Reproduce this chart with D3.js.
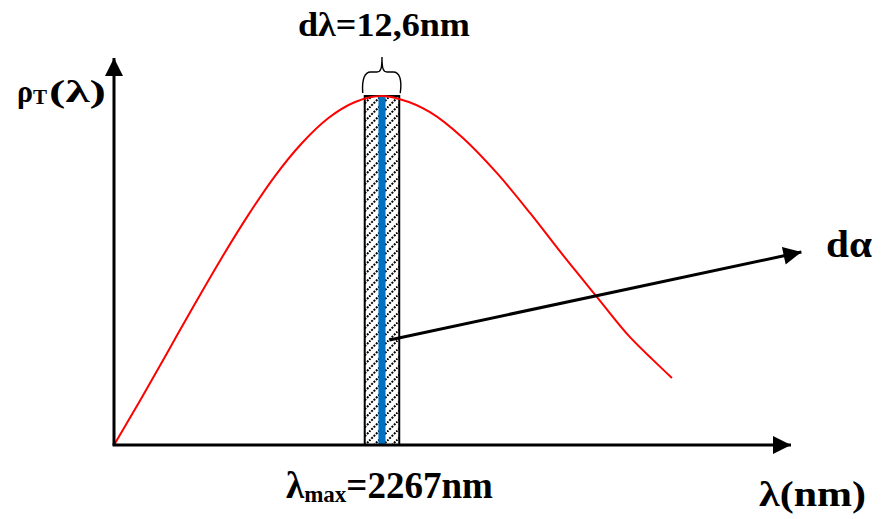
<!DOCTYPE html>
<html>
<head>
<meta charset="utf-8">
<script src="https://cdn.jsdelivr.net/npm/d3@7"></script>
<style>
  html, body { margin: 0; padding: 0; background: #fff; }
  svg { display: block; }
  text { font-family: "Liberation Serif", "Times New Roman", serif; font-weight: bold; fill: #000; }
</style>
</head>
<body>
<svg id="chart" width="882" height="519"></svg>
<script>
// Spectral density curve ρT(λ), normalised to its maximum (wavelength in nm)
const wavelengths = [0, 227, 453, 680, 907, 1134, 1360, 1587, 1814, 2040, 2267,
                     2419, 2673, 2952, 3240, 3519, 3798, 4086, 4365, 4559, 4720];
const density     = [0, 0.131, 0.266, 0.402, 0.534, 0.658, 0.770, 0.864, 0.937, 0.983, 1.000,
                     0.991, 0.954, 0.880, 0.779, 0.665, 0.544, 0.424, 0.309, 0.244, 0.192];

// Peak wavelength and the narrow slice dλ around it
const lambdaMax = 2267;
const dLambda = 12.6;
// Drawn (schematic) half-widths of the hatched slice and its core, in nm
const sliceHalf = [146, 30];

// Arrow from the slice to the dα label, in (nm, density) coordinates
const arrowFrom = [2330, 0.301];
const arrowTo   = [5815, 0.553];

// Text labels
const yLabel = ["ρ", "T", "(λ)"];
const xLabel = "λ(nm)";
const sliceLabel = "dλ=" + String(dLambda).replace(".", ",") + "nm";
const peakLabel = ["λ", "max", "=" + lambdaMax + "nm"];
const areaLabel = "dα";

const svg = d3.select("#chart");

const x = d3.scaleLinear().domain([0, 5727]).range([114, 791]);
const y = d3.scaleLinear().domain([0, 1.109]).range([445, 58]);

const defs = svg.append("defs");

// Diagonal dotted hatching for the slice
const pat = defs.append("pattern")
  .attr("id", "hatch")
  .attr("patternUnits", "userSpaceOnUse")
  .attr("width", 9).attr("height", 9);
pat.append("rect").attr("width", 9).attr("height", 9).attr("fill", "#fff");
pat.append("path")
  .attr("d", "M-2,2 L2,-2 M0,9 L9,0 M7,11 L11,7")
  .attr("stroke", "#000")
  .attr("stroke-width", 2)
  .attr("stroke-dasharray", "2,1.3");

// Arrow head
defs.append("marker")
  .attr("id", "head")
  .attr("viewBox", "0 0 10 10")
  .attr("refX", 10).attr("refY", 5)
  .attr("markerUnits", "userSpaceOnUse")
  .attr("markerWidth", 19).attr("markerHeight", 18)
  .attr("orient", "auto")
  .append("path")
  .attr("d", "M0,0 L10,5 L0,10 Z")
  .attr("fill", "#000");

// Slice band [λmax - half, λmax + half] up to the curve peak
const bx0 = x(lambdaMax - sliceHalf[0]);
const bx1 = x(lambdaMax + sliceHalf[0]);
const peakVal = d3.max(density);
svg.append("rect")
  .attr("x", bx0).attr("y", y(peakVal))
  .attr("width", bx1 - bx0).attr("height", y(0) - y(peakVal))
  .attr("fill", "url(#hatch)")
  .attr("stroke", "#000").attr("stroke-width", 2);

svg.append("rect")
  .attr("x", x(lambdaMax - sliceHalf[1])).attr("y", y(peakVal) + 1)
  .attr("width", x(lambdaMax + sliceHalf[1]) - x(lambdaMax - sliceHalf[1]))
  .attr("height", y(0) - y(peakVal) - 1)
  .attr("fill", "#0070c0");

// Spectral curve
const pts = wavelengths.map((w, i) => [w, density[i]]);
svg.append("path")
  .datum(pts)
  .attr("fill", "none")
  .attr("stroke", "#ff0000")
  .attr("stroke-width", 2)
  .attr("d", d3.line().x(d => x(d[0])).y(d => y(d[1])).curve(d3.curveMonotoneX));

// Axes
svg.append("line")
  .attr("x1", x(0)).attr("y1", y(0))
  .attr("x2", x(0)).attr("y2", y.range()[1])
  .attr("stroke", "#000").attr("stroke-width", 3)
  .attr("marker-end", "url(#head)");
svg.append("line")
  .attr("x1", x(0) - 1.5).attr("y1", y(0))
  .attr("x2", x.range()[1]).attr("y2", y(0))
  .attr("stroke", "#000").attr("stroke-width", 3)
  .attr("marker-end", "url(#head)");

// Brace over the slice
const by = y(peakVal) - 3;
const cx = (bx0 + bx1) / 2;
svg.append("path")
  .attr("d", `M${bx0 - 2},${by} C${bx0 - 3},${by - 14} ${bx0},${by - 21} ${bx0 + 6},${by - 21}
              L${cx - 5},${by - 21} C${cx - 1},${by - 21} ${cx},${by - 25} ${cx},${by - 36}
              C${cx},${by - 25} ${cx + 1},${by - 21} ${cx + 5},${by - 21}
              L${bx1 - 6},${by - 21} C${bx1},${by - 21} ${bx1 + 3},${by - 14} ${bx1 + 1},${by}`)
  .attr("fill", "none").attr("stroke", "#000").attr("stroke-width", 1.4);

// Arrow to dα
svg.append("line")
  .attr("x1", x(arrowFrom[0])).attr("y1", y(arrowFrom[1]))
  .attr("x2", x(arrowTo[0])).attr("y2", y(arrowTo[1]))
  .attr("stroke", "#000").attr("stroke-width", 3)
  .attr("marker-end", "url(#head)");

// Labels
svg.append("text")
  .attr("x", 298).attr("y", 36)
  .attr("font-size", 34)
  .attr("textLength", 172).attr("lengthAdjust", "spacingAndGlyphs")
  .text(sliceLabel);

// ρT(λ): symbol, subscript and argument set as separate runs
svg.append("text").attr("x", 17).attr("y", 102).attr("font-size", 32)
  .attr("textLength", 16).attr("lengthAdjust", "spacingAndGlyphs")
  .text(yLabel[0]);
svg.append("text").attr("x", 33).attr("y", 104).attr("font-size", 21)
  .text(yLabel[1]);
svg.append("text").attr("x", 49).attr("y", 102).attr("font-size", 32)
  .attr("textLength", 57).attr("lengthAdjust", "spacingAndGlyphs")
  .text(yLabel[2]);

const pl = svg.append("text").attr("x", 286).attr("y", 498).attr("font-size", 37);
pl.append("tspan").text(peakLabel[0]);
pl.append("tspan").attr("font-size", 23).attr("dy", 4).text(peakLabel[1]);
pl.append("tspan").attr("dy", -4).text(peakLabel[2]);

svg.append("text")
  .attr("x", 759).attr("y", 506)
  .attr("font-size", 35)
  .attr("textLength", 107).attr("lengthAdjust", "spacingAndGlyphs")
  .text(xLabel);

svg.append("text")
  .attr("x", 826).attr("y", 257)
  .attr("font-size", 37)
  .attr("textLength", 46).attr("lengthAdjust", "spacingAndGlyphs")
  .text(areaLabel);
</script>
</body>
</html>
